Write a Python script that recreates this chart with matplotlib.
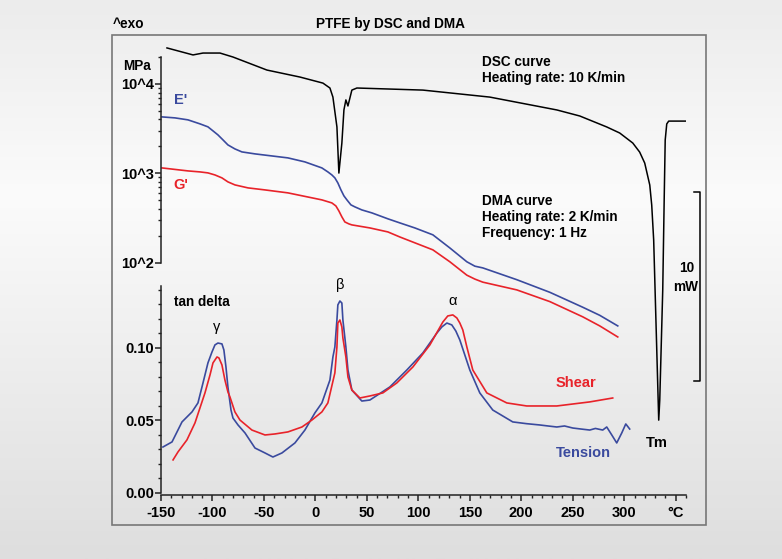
import numpy as np
import matplotlib
matplotlib.use("Agg")
import matplotlib.pyplot as plt
from matplotlib.ticker import FixedLocator, NullFormatter
from matplotlib.colors import LinearSegmentedColormap
from matplotlib.patches import Rectangle

plt.rcParams['font.family'] = ['Liberation Sans', 'DejaVu Sans']

# ---- data ----
# DSC heat flow, mW (arbitrary offset)
dsc_T = [-144.2, -118.9, -109.2, -92.7, -80.1, -47.1, -15.0, 7.3, 14.1, 17.0,
         20.9, 22.8, 25.7, 27.7, 29.6, 31.6, 35.4, 40.3, 104.4, 169.4,
         234.5, 256.8, 283.0, 295.6, 308.3, 315.0, 319.9, 324.8, 326.7, 328.6,
         331.6, 333.5, 334.5, 337.4, 338.8, 339.8, 341.3, 343.2, 359.7]
dsc_mW = [-0.42, -0.79, -0.69, -0.69, -0.90, -1.59, -1.96, -2.28, -2.54, -3.02,
          -4.60, -7.04, -5.45, -3.70, -3.17, -3.49, -2.65, -2.54, -2.65, -3.02,
          -3.70, -4.02, -4.60, -4.92, -5.45, -5.93, -6.51, -7.67, -8.73, -10.58,
          -16.40, -20.11, -19.05, -13.23, -8.47, -5.29, -4.44, -4.29, -4.29]

# storage moduli, MPa
E_T = [-149.0, -136.4, -123.8, -112.1, -104.4, -99.5, -94.7, -89.8, -85.0, -78.2,
       -71.4, -58.7, -26.7, -10.2, 6.3, 12.1, 16.0, 18.9, 21.8, 24.8,
       27.7, 30.6, 34.5, 38.3, 45.1, 54.9, 70.4, 82.0, 96.6, 114.1,
       130.6, 147.1, 154.9, 162.6, 195.6, 227.7, 259.7, 276.2, 293.7]
E_mod = [4276, 4169, 3963, 3574, 3311, 2985, 2693, 2367, 2081, 1877,
         1738, 1652, 1490, 1344, 1151, 1039, 961, 891, 783, 654,
         561, 506, 445, 423, 391, 362, 311, 280, 246, 206,
         147, 103, 92, 88, 65, 47, 32, 26, 19.8]
G_T = [-149.0, -123.8, -112.1, -104.4, -97.6, -90.8, -85.0, -78.2, -65.5, -49.0,
       -26.7, 6.3, 16.0, 19.9, 22.8, 25.7, 28.6, 32.5, 35.4, 52.9,
       70.4, 82.0, 114.1, 130.6, 147.1, 154.9, 162.6, 195.6, 227.7, 259.7,
       276.2, 293.7]
G_mod = [1151, 1066, 1039, 1013, 961, 891, 804, 744, 689, 654,
         606, 506, 468, 433, 381, 327, 287, 273, 266, 246,
         222, 195, 140, 103, 73, 66, 61, 50, 37, 25,
         19.8, 14.9]

# tan delta, tension
ten_T = [-148.1, -139.3, -129.6, -119.9, -114.1, -109.2, -104.4, -100.5, -97.6, -94.7,
         -90.8, -88.9, -86.9, -85.0, -82.0, -80.1, -75.2, -68.4, -58.7, -49.0,
         -41.3, -32.5, -19.9, -10.2, -0.5, 6.3, 14.1, 17.0, 18.9, 20.9,
         21.8, 23.8, 25.7, 26.7, 29.6, 31.6, 35.4, 45.1, 52.9, 72.3,
         88.8, 104.4, 118.0, 122.8, 127.7, 132.5, 136.4, 140.3, 150.0, 159.7,
         172.3, 191.7, 205.0, 217.9, 226.0, 234.5, 242.0, 250.0, 258.0, 266.5,
         272.0, 279.1, 283.0, 287.9, 292.7, 297.6, 301.5, 305.3]
ten_tan = [0.0317, 0.0352, 0.0490, 0.0559, 0.0621, 0.0759, 0.0897, 0.0972, 0.1021, 0.1034,
           0.1028, 0.0986, 0.0869, 0.0731, 0.0572, 0.0517, 0.0469, 0.0414, 0.0310, 0.0276,
           0.0248, 0.0276, 0.0345, 0.0434, 0.0552, 0.0621, 0.0779, 0.0938, 0.1007, 0.1193,
           0.1297, 0.1324, 0.1310, 0.1193, 0.1007, 0.0848, 0.0710, 0.0634, 0.0641, 0.0731,
           0.0848, 0.0966, 0.1103, 0.1145, 0.1172, 0.1159, 0.1117, 0.1055, 0.0848, 0.0690,
           0.0572, 0.0490, 0.0478, 0.0469, 0.0462, 0.0455, 0.0462, 0.0448, 0.0441, 0.0434,
           0.0445, 0.0434, 0.0455, 0.0400, 0.0345, 0.0414, 0.0476, 0.0441]

# tan delta, shear
sh_T = [-138.3, -133.5, -124.8, -117.0, -107.3, -102.4, -99.5, -95.6, -93.7, -90.8,
        -87.9, -85.0, -83.0, -78.2, -73.3, -61.7, -49.0, -39.3, -26.7, -13.1,
        -3.4, 6.3, 12.1, 18.9, 20.9, 21.8, 23.8, 25.7, 26.7, 29.6,
        31.6, 35.4, 43.2, 52.9, 65.5, 79.1, 94.7, 111.2, 123.8, 128.6,
        133.5, 137.4, 140.3, 143.2, 147.1, 152.9, 166.5, 185.9, 205.3, 234.5,
        266.5, 288.8]
sh_tan = [0.0228, 0.0283, 0.0366, 0.0483, 0.0690, 0.0814, 0.0897, 0.0938, 0.0931, 0.0883,
          0.0779, 0.0697, 0.0662, 0.0559, 0.0503, 0.0434, 0.0400, 0.0407, 0.0421, 0.0455,
          0.0503, 0.0559, 0.0621, 0.0828, 0.1007, 0.1172, 0.1193, 0.1145, 0.1069, 0.0938,
          0.0800, 0.0710, 0.0655, 0.0669, 0.0690, 0.0759, 0.0869, 0.1021, 0.1179, 0.1221,
          0.1228, 0.1207, 0.1172, 0.1124, 0.1007, 0.0848, 0.0690, 0.0621, 0.0600, 0.0600,
          0.0628, 0.0655]

x_ticks = [-150, -100, -50, 0, 50, 100, 150, 200, 250, 300, 350]
x_labels = ['-150', '-100', '-50', '0', '50', '100', '150', '200', '250', '300', '°C']

BLUE = '#3a4a9e'
RED = '#e8232a'

W, H = 782, 559
fig = plt.figure(figsize=(W / 100, H / 100), dpi=100)

# background gradient + frame
bg = fig.add_axes([0, 0, 1, 1])
bg.set_axis_off()
cmap = LinearSegmentedColormap.from_list('bg', [(0, '#ececec'), (0.35, '#fbfbfb'), (1, '#dedede')])
bg.imshow(np.linspace(0, 1, 200).reshape(-1, 1), aspect='auto', cmap=cmap, extent=[0, 1, 0, 1])
bg.set_xlim(0, 1)
bg.set_ylim(0, 1)
bg.add_patch(Rectangle((112 / W, 1 - 525 / H), 594 / W, 490 / H, fill=False,
                       edgecolor='#777777', lw=1.2))

rect = [161 / W, 1 - 495 / H, 525 / W, 455 / H]

# tan delta axes (carries the x axis)
ax_t = fig.add_axes(rect)
ax_t.patch.set_visible(False)
ax_t.set_xlim(-150, 360)
ax_t.set_ylim(-0.0014, 0.3124)
for s in ['top', 'right']:
    ax_t.spines[s].set_visible(False)
ax_t.spines['left'].set_bounds(0, 0.143)
ax_t.spines['bottom'].set_bounds(-150, 360)
ax_t.set_yticks([0, 0.05, 0.10])
ax_t.set_yticklabels(['0.00', '0.05', '0.10'])
ax_t.yaxis.set_minor_locator(FixedLocator([i / 100 for i in range(1, 15) if i % 5]))
ax_t.set_xticks(x_ticks)
ax_t.set_xticklabels(x_labels)
ax_t.xaxis.set_minor_locator(FixedLocator([v for v in range(-150, 361, 10) if v % 50]))
ax_t.plot(ten_T, ten_tan, color=BLUE, lw=1.2)
ax_t.plot(sh_T, sh_tan, color=RED, lw=1.2)

# modulus axes (log)
ax_m = fig.add_axes(rect)
ax_m.patch.set_visible(False)
ax_m.set_yscale('log')
ax_m.set_xlim(-150, 360)
ax_m.set_ylim(10 ** -0.592, 10 ** 4.49)
for s in ['top', 'right', 'bottom']:
    ax_m.spines[s].set_visible(False)
ax_m.spines['left'].set_bounds(100, 10 ** 4.3)
ax_m.set_xticks([])
ax_m.yaxis.set_major_locator(FixedLocator([100, 1000, 10000]))
ax_m.set_yticklabels(['10^2', '10^3', '10^4'])
ax_m.yaxis.set_minor_locator(FixedLocator([k * 10 ** d for d in (2, 3, 4) for k in range(2, 10)
                                           if k * 10 ** d <= 2e4]))
ax_m.yaxis.set_minor_formatter(NullFormatter())
ax_m.plot(E_T, E_mod, color=BLUE, lw=1.2)
ax_m.plot(G_T, G_mod, color=RED, lw=1.2)

for ax in (ax_t, ax_m):
    for s in ax.spines.values():
        s.set_linewidth(1.1)
        s.set_color('#222222')
    ax.tick_params(which='major', length=4, width=1.1, color='#222222', labelsize=10.5,
                   direction='out')
    ax.tick_params(which='minor', length=2.5, width=1.0, color='#222222', direction='out')
    for lab in ax.get_xticklabels() + ax.get_yticklabels():
        lab.set_fontweight('bold')
ax_t.tick_params(axis='x', which='major', pad=4)
ax_t.tick_params(axis='y', which='major', pad=1)
ax_m.tick_params(axis='y', which='major', pad=1)

# DSC axes
ax_d = fig.add_axes(rect)
ax_d.set_axis_off()
ax_d.set_xlim(-150, 360)
ax_d.set_ylim(-24.07, 0)
ax_d.plot(dsc_T, dsc_mW, color='black', lw=1.1)
# 10 mW scale bar
ax_d.plot([367.5, 373.3, 373.3, 367.5], [-8.04, -8.04, -18.04, -18.04], color='black',
          lw=1.1, clip_on=False)

# texts
fs = 9.8
fig.text(113 / W, 1 - 24 / H, '^exo', fontsize=fs, fontweight='bold', va='center', ha='left')
fig.text(391 / W, 1 - 24 / H, 'PTFE by DSC and DMA', fontsize=fs, fontweight='bold',
         va='center', ha='center')
fig.text(137 / W, 1 - 66 / H, 'MPa', fontsize=fs, fontweight='bold', va='center', ha='center')
fig.text(181 / W, 1 - 100 / H, "E'", fontsize=10.5, fontweight='bold', color=BLUE,
         va='center', ha='center')
fig.text(181 / W, 1 - 185 / H, "G'", fontsize=10.5, fontweight='bold', color=RED,
         va='center', ha='center')
fig.text(482 / W, 1 - 70 / H, 'DSC curve\nHeating rate: 10 K/min', fontsize=fs,
         fontweight='bold', va='center', ha='left', linespacing=1.2)
fig.text(482 / W, 1 - 217 / H, 'DMA curve\nHeating rate: 2 K/min\nFrequency: 1 Hz',
         fontsize=fs, fontweight='bold', va='center', ha='left', linespacing=1.2)
fig.text(202 / W, 1 - 302 / H, 'tan delta', fontsize=fs, fontweight='bold',
         va='center', ha='center')
fig.text(217 / W, 1 - 327 / H, 'γ', fontsize=10.5, va='center', ha='center')
fig.text(340 / W, 1 - 285 / H, 'β', fontsize=10.5, va='center', ha='center')
fig.text(453 / W, 1 - 301 / H, 'α', fontsize=10.5, va='center', ha='center')
fig.text(576 / W, 1 - 383 / H, 'Shear', fontsize=10.5, fontweight='bold', color=RED,
         va='center', ha='center')
fig.text(583 / W, 1 - 453 / H, 'Tension', fontsize=10.5, fontweight='bold', color=BLUE,
         va='center', ha='center')
fig.text(657 / W, 1 - 443 / H, 'Tm', fontsize=10.5, fontweight='bold', va='center', ha='center')
fig.text(687 / W, 1 - 268 / H, '10', fontsize=fs, fontweight='bold', va='center', ha='center')
fig.text(686 / W, 1 - 287 / H, 'mW', fontsize=fs, fontweight='bold', va='center', ha='center')

fig.savefig('out.png', dpi=100, facecolor='white')
